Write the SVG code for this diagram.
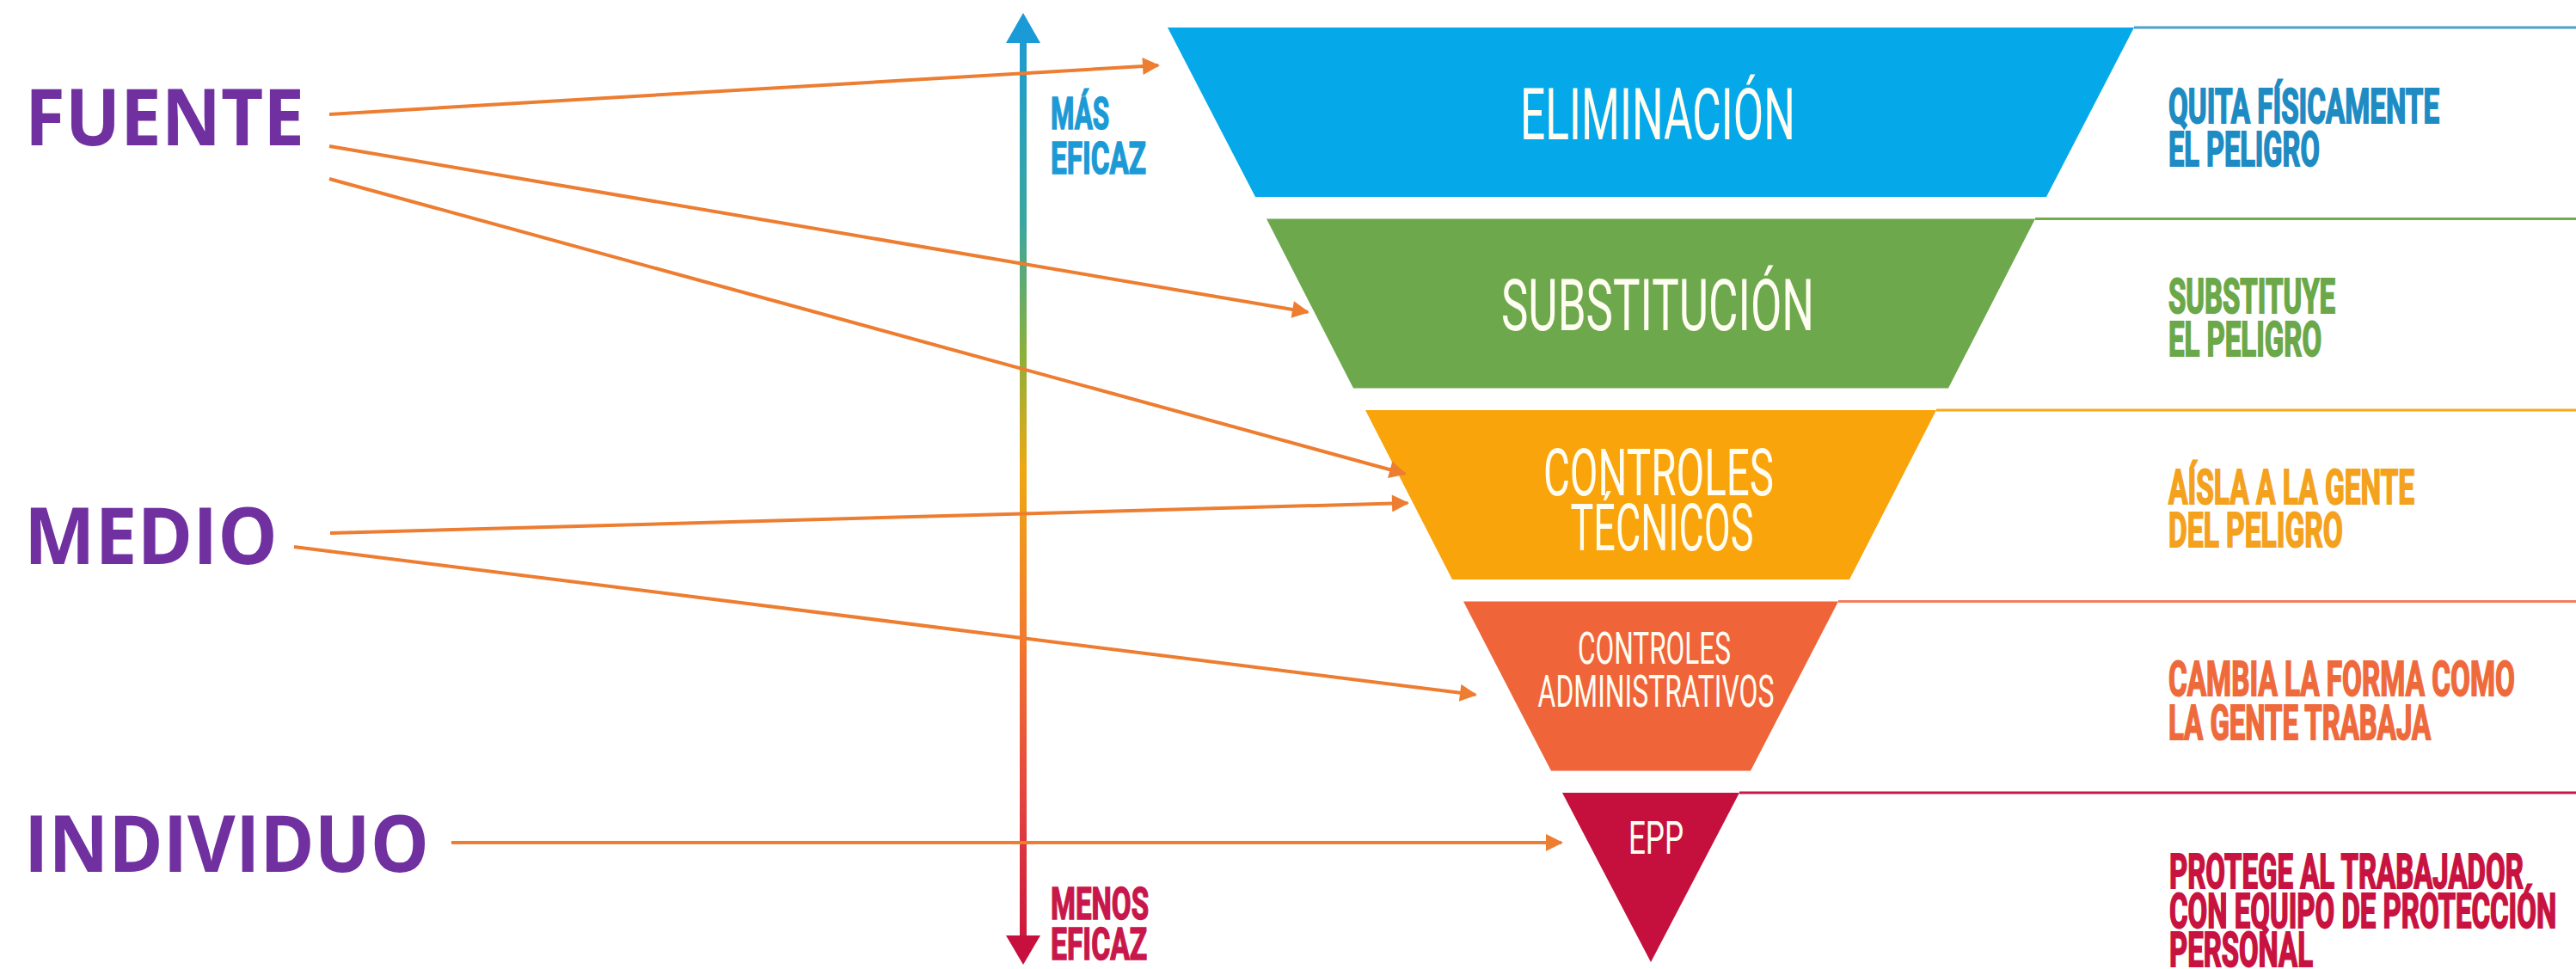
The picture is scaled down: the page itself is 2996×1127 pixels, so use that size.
<svg xmlns="http://www.w3.org/2000/svg" width="2996" height="1127" viewBox="0 0 2996 1127">
<style>
.lbl{font-family:"Open Sans","Noto Sans","Liberation Sans",sans-serif;font-weight:700;font-size:92px;fill:#7030a0}
.band{font-family:"Roboto","Liberation Sans",sans-serif;font-weight:400;fill:#fffdf2;text-anchor:middle}
.desc{font-family:"Roboto","Liberation Sans",sans-serif;font-weight:700;font-size:56px;stroke-width:2}
.ax{font-family:"Roboto","Liberation Sans",sans-serif;font-weight:700;font-size:52px;stroke-width:1.6}
.conn{stroke:#ed7d31;stroke-width:4;fill:none;marker-end:url(#ah)}
.ext{stroke-width:3;fill:none}
</style>
<defs>
<marker id="ah" viewBox="0 0 10 10" refX="9" refY="5" markerUnits="userSpaceOnUse" markerWidth="22" markerHeight="20" orient="auto">
<path d="M0,0 L10,5 L0,10 z" fill="#ed7d31"/>
</marker>
<linearGradient id="axg" gradientUnits="userSpaceOnUse" x1="1190" y1="15" x2="1190" y2="1122">
<stop offset="0" stop-color="#1a9ad6"/>
<stop offset="0.22" stop-color="#3aa6a0"/>
<stop offset="0.36" stop-color="#8db03a"/>
<stop offset="0.48" stop-color="#eea812"/>
<stop offset="0.65" stop-color="#f27c2e"/>
<stop offset="0.82" stop-color="#e4463f"/>
<stop offset="1" stop-color="#c8103e"/>
</linearGradient>
</defs>
<rect width="2996" height="1127" fill="#ffffff"/>

<g id="axis">
<rect x="1186" y="46" width="8" height="1046" fill="url(#axg)"/>
<polygon points="1190,15 1170,50 1210,50" fill="#1a9ad6"/>
<polygon points="1190,1122 1170,1088 1210,1088" fill="#c8103e"/>
<text class="ax" transform="translate(1222,150) scale(0.63,1)" textLength="108" lengthAdjust="spacingAndGlyphs" fill="#1b9ad6" stroke="#1b9ad6">MÁS</text>
<text class="ax" transform="translate(1222,202) scale(0.63,1)" textLength="176" lengthAdjust="spacingAndGlyphs" fill="#1b9ad6" stroke="#1b9ad6">EFICAZ</text>
<text class="ax" transform="translate(1222,1069) scale(0.63,1)" textLength="181" lengthAdjust="spacingAndGlyphs" fill="#c8174a" stroke="#c8174a">MENOS</text>
<text class="ax" transform="translate(1222,1116) scale(0.63,1)" textLength="178" lengthAdjust="spacingAndGlyphs" fill="#c8174a" stroke="#c8174a">EFICAZ</text>
</g>

<g id="fuente"><text class="lbl" x="29" y="169" textLength="325" lengthAdjust="spacingAndGlyphs">FUENTE</text></g>
<g id="medio"><text class="lbl" x="28" y="656" textLength="295" lengthAdjust="spacingAndGlyphs">MEDIO</text></g>
<g id="individuo"><text class="lbl" x="28" y="1014" textLength="471" lengthAdjust="spacingAndGlyphs">INDIVIDUO</text></g>

<g id="eliminacion">
<polygon points="1358,32 2482,32 2380,229 1460,229" fill="#05a9e9"/>
<line class="ext" x1="2482" y1="32" x2="2996" y2="32" stroke="#4d9fcc"/>
<text class="band" transform="translate(1928,162) scale(0.6,1)" font-size="84" textLength="533" lengthAdjust="spacingAndGlyphs">ELIMINACIÓN</text>
<text class="desc" transform="translate(2522,143) scale(0.59,1)" textLength="534" lengthAdjust="spacingAndGlyphs" fill="#1e8bc3" stroke="#1e8bc3">QUITA FÍSICAMENTE</text>
<text class="desc" transform="translate(2522,193) scale(0.59,1)" textLength="298" lengthAdjust="spacingAndGlyphs" fill="#1e8bc3" stroke="#1e8bc3">EL PELIGRO</text>
</g>

<g id="substitucion">
<polygon points="1473,254.5 2367,254.5 2266,451.5 1574,451.5" fill="#6ea84c"/>
<line class="ext" x1="2367" y1="254.5" x2="2996" y2="254.5" stroke="#70ad47"/>
<text class="band" transform="translate(1928,384) scale(0.6,1)" font-size="84" textLength="607" lengthAdjust="spacingAndGlyphs">SUBSTITUCIÓN</text>
<text class="desc" transform="translate(2522,364) scale(0.59,1)" textLength="329" lengthAdjust="spacingAndGlyphs" fill="#6aa84a" stroke="#6aa84a">SUBSTITUYE</text>
<text class="desc" transform="translate(2522,414) scale(0.59,1)" textLength="302" lengthAdjust="spacingAndGlyphs" fill="#6aa84a" stroke="#6aa84a">EL PELIGRO</text>
</g>

<g id="controles-tecnicos">
<polygon points="1588,477 2252,477 2151,674 1689,674" fill="#f9a40a"/>
<line class="ext" x1="2252" y1="477" x2="2996" y2="477" stroke="#f7a81b"/>
<text class="band" transform="translate(1929,576) scale(0.6,1)" font-size="76" textLength="447" lengthAdjust="spacingAndGlyphs">CONTROLES</text>
<text class="band" transform="translate(1933,640) scale(0.6,1)" font-size="76" textLength="355" lengthAdjust="spacingAndGlyphs">TÉCNICOS</text>
<text class="desc" transform="translate(2522,586) scale(0.59,1)" textLength="485" lengthAdjust="spacingAndGlyphs" fill="#f4a21d" stroke="#f4a21d">AÍSLA A LA GENTE</text>
<text class="desc" transform="translate(2522,636) scale(0.59,1)" textLength="344" lengthAdjust="spacingAndGlyphs" fill="#f4a21d" stroke="#f4a21d">DEL PELIGRO</text>
</g>

<g id="controles-administrativos">
<polygon points="1702,699.5 2138,699.5 2036,896.5 1804,896.5" fill="#f0643a"/>
<line class="ext" x1="2138" y1="699.5" x2="2996" y2="699.5" stroke="#f07f5e"/>
<text class="band" transform="translate(1924,772) scale(0.6,1)" font-size="52" textLength="297" lengthAdjust="spacingAndGlyphs">CONTROLES</text>
<text class="band" transform="translate(1926,822) scale(0.6,1)" font-size="52" textLength="458" lengthAdjust="spacingAndGlyphs">ADMINISTRATIVOS</text>
<text class="desc" transform="translate(2522,809) scale(0.59,1)" textLength="683" lengthAdjust="spacingAndGlyphs" fill="#ee6a3c" stroke="#ee6a3c">CAMBIA LA FORMA COMO</text>
<text class="desc" transform="translate(2522,860) scale(0.59,1)" textLength="517" lengthAdjust="spacingAndGlyphs" fill="#ee6a3c" stroke="#ee6a3c">LA GENTE TRABAJA</text>
</g>

<g id="epp">
<polygon points="1817,922 2023,922 1920,1119" fill="#c50f3c"/>
<line class="ext" x1="2023" y1="922" x2="2996" y2="922" stroke="#c8174a"/>
<text class="band" transform="translate(1926,993) scale(0.6,1)" font-size="53" textLength="107" lengthAdjust="spacingAndGlyphs">EPP</text>
<text class="desc" transform="translate(2523,1033) scale(0.59,1)" textLength="698" lengthAdjust="spacingAndGlyphs" fill="#c8123f" stroke="#c8123f">PROTEGE AL TRABAJADOR</text>
<text class="desc" transform="translate(2523,1079) scale(0.59,1)" textLength="763" lengthAdjust="spacingAndGlyphs" fill="#c8123f" stroke="#c8123f">CON EQUIPO DE PROTECCIÓN</text>
<text class="desc" transform="translate(2523,1124) scale(0.59,1)" textLength="283" lengthAdjust="spacingAndGlyphs" fill="#c8123f" stroke="#c8123f">PERSONAL</text>
</g>

<g id="connectors">
<line class="conn" x1="383" y1="133" x2="1347" y2="76"/>
<line class="conn" x1="383" y1="170" x2="1521" y2="363"/>
<line class="conn" x1="383" y1="208" x2="1634" y2="551"/>
<line class="conn" x1="384" y1="620" x2="1637" y2="585"/>
<line class="conn" x1="342" y1="636" x2="1716" y2="808"/>
<line class="conn" x1="525" y1="980" x2="1816" y2="980"/>
</g>
</svg>
